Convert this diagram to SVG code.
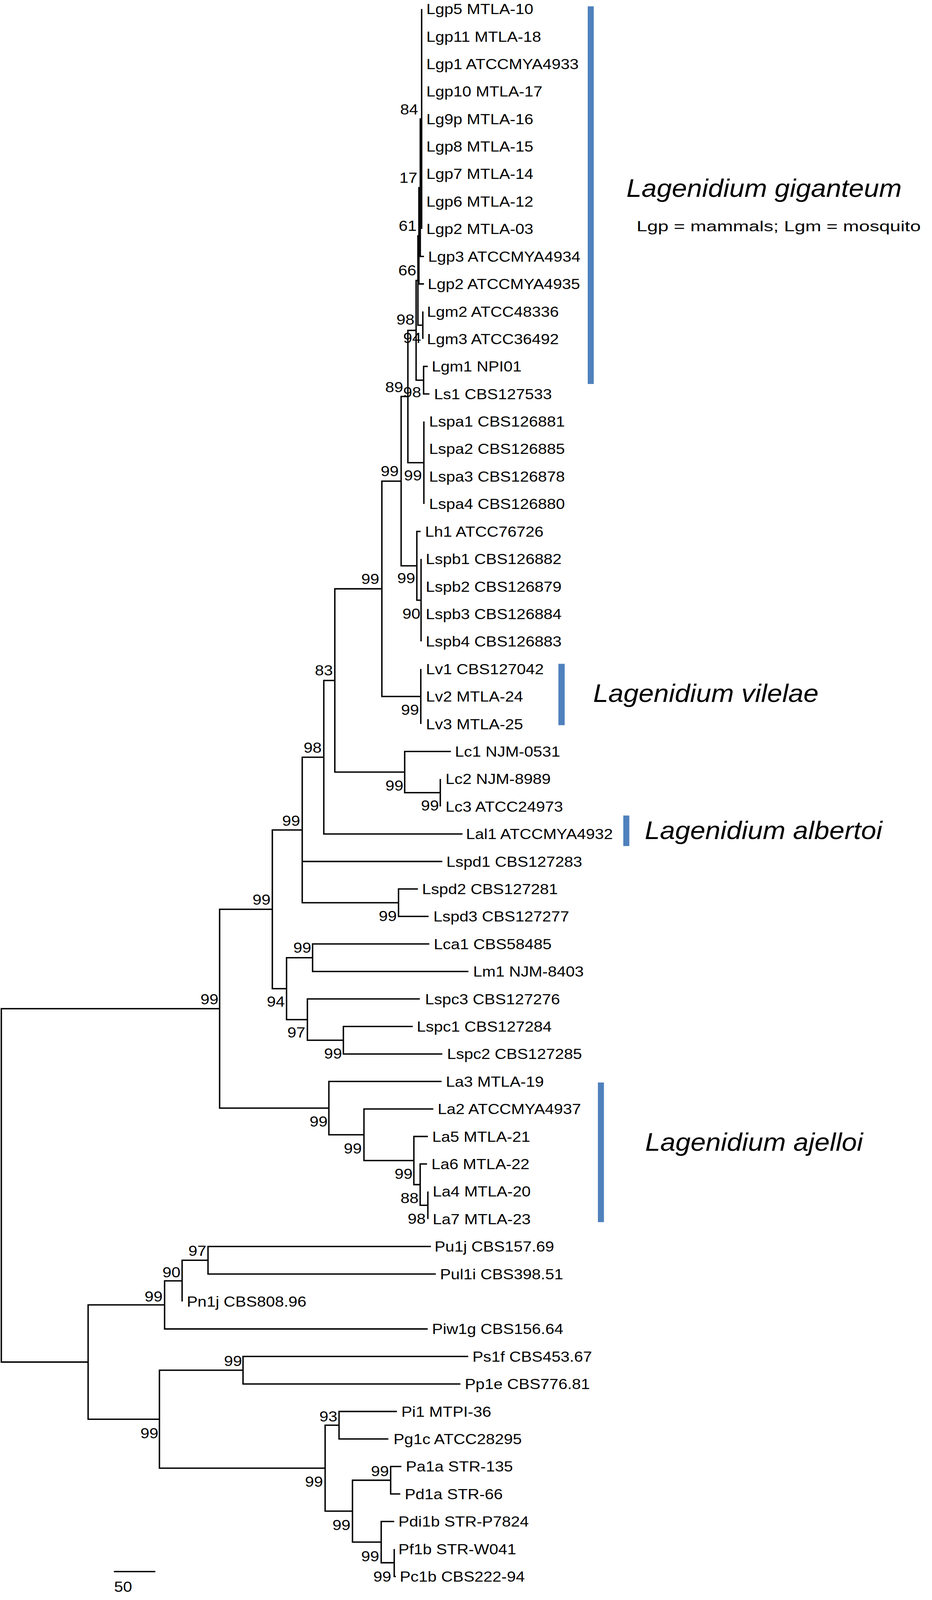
<svg xmlns="http://www.w3.org/2000/svg" width="2385" height="4169" viewBox="0 0 2385 4169">
<style>
.br{fill:none;stroke:#000;stroke-width:3.6;stroke-linejoin:miter;stroke-linecap:butt}
.lf{font-family:"Liberation Sans",Arial,Helvetica,sans-serif;font-size:38px;fill:#000}
.bs{font-family:"Liberation Sans",Arial,Helvetica,sans-serif;font-size:38px;fill:#000;text-anchor:end}
.cl{font-family:"Liberation Sans",Arial,Helvetica,sans-serif;font-size:66px;font-style:italic;fill:#000}
.bar{fill:#4F81BD}
</style>
<rect width="2385" height="4169" fill="#fff"/>
<g id="figure" transform="scale(1 0.982)">
<g id="connectors">
<path class="br" d="M1079 23.3V596.8"/>
<path class="br" d="M1079 310.05H1075.5V668.5H1085"/>
<path class="br" d="M1075.5 489.3H1072V740.2H1085"/>
<path class="br" d="M1082 811.9V883.6"/>
<path class="br" d="M1072 614.75H1069.5V847.75H1082"/>
<path class="br" d="M1094.7 955.3H1084V1027H1099"/>
<path class="br" d="M1069.5 731.25H1064.8V991.15H1084"/>
<path class="br" d="M1084.7 1098.7V1313.7"/>
<path class="br" d="M1064.8 861.2H1043.8V1206.2H1084.7"/>
<path class="br" d="M1077.5 1457.1V1672.2"/>
<path class="br" d="M1076.3 1385.4H1066.7V1564.65H1077.5"/>
<path class="br" d="M1043.8 1033.7H1026.5V1475H1066.7"/>
<path class="br" d="M1076.8 1743.9V1887.3"/>
<path class="br" d="M1026.5 1254.35H977.2V1815.6H1076.8"/>
<path class="br" d="M1126.7 2030.7V2102.4"/>
<path class="br" d="M1153.8 1959H1035.6V2066.55H1126.7"/>
<path class="br" d="M977.2 1535H856.8V2012.8H1035.6"/>
<path class="br" d="M856.8 1773.9H828.6V2174.1H1183.6"/>
<path class="br" d="M1069.5 2317.5H1019.8V2389.1H1096.8"/>
<path class="br" d="M828.6 1974H773.4V2353.3H1019.8M773.4 2245.8H1131.9"/>
<path class="br" d="M1098.6 2460.8H799.9V2532.5H1198.6"/>
<path class="br" d="M1056.2 2675.9H878.7V2747.6H1131.9"/>
<path class="br" d="M1074.4 2604.2H786.6V2711.75H878.7"/>
<path class="br" d="M799.9 2496.65H733.3V2658H786.6"/>
<path class="br" d="M773.4 2163.65H696.9V2577.3H733.3"/>
<path class="br" d="M1094.9 3106.1V3177.8"/>
<path class="br" d="M1092.8 3034.4H1075.2V3141.95H1094.9"/>
<path class="br" d="M1094.9 2962.7H1059.1V3088.2H1075.2"/>
<path class="br" d="M1108.9 2891H931.4V3025.45H1059.1"/>
<path class="br" d="M1130 2819.3H841.6V2958.2H931.4"/>
<path class="br" d="M696.9 2370.5H562V2888.75H841.6"/>
<path class="br" d="M1102.8 3249.5H532.3V3321.2H1115.3"/>
<path class="br" d="M532.3 3285.35H466V3392.8"/>
<path class="br" d="M466 3339.1H421.2V3464.5H1094.5"/>
<path class="br" d="M1198.2 3536.2H621.9V3607.9H1178.2"/>
<path class="br" d="M1015.7 3679.6H867.6V3751.3H993.9"/>
<path class="br" d="M1027.2 3823H999.7V3894.7H1024.3"/>
<path class="br" d="M1008.8 4038.1V4109.8H1013"/>
<path class="br" d="M1008.8 3966.4H975.5V4073.95H1008.8"/>
<path class="br" d="M999.7 3858.85H902V4020.2H975.5"/>
<path class="br" d="M867.6 3715.45H832V3939.5H902"/>
<path class="br" d="M621.9 3572.05H408V3827.5H832"/>
<path class="br" d="M421.2 3401.8H225.5V3699.8H408"/>
<path class="br" d="M562 2629.6H3.4V3550.8H225.5"/>
</g>
<g id="leaves">
<g id="n1"><text class="lf" transform="translate(1091 36.8) scale(1.09 1)">Lgp5 MTLA-10</text></g>
<g id="n2"><text class="lf" transform="translate(1091 108.5) scale(1.09 1)">Lgp11 MTLA-18</text></g>
<g id="n3"><text class="lf" transform="translate(1091 180.2) scale(1.09 1)">Lgp1 ATCCMYA4933</text></g>
<g id="n4"><text class="lf" transform="translate(1091 251.9) scale(1.09 1)">Lgp10 MTLA-17</text></g>
<g id="n5"><text class="lf" transform="translate(1091 323.6) scale(1.09 1)">Lg9p MTLA-16</text></g>
<g id="n6"><text class="lf" transform="translate(1091 395.3) scale(1.09 1)">Lgp8 MTLA-15</text></g>
<g id="n7"><text class="lf" transform="translate(1091 466.9) scale(1.09 1)">Lgp7 MTLA-14</text></g>
<g id="n8"><text class="lf" transform="translate(1091 538.6) scale(1.09 1)">Lgp6 MTLA-12</text></g>
<g id="n9"><text class="lf" transform="translate(1091 610.3) scale(1.09 1)">Lgp2 MTLA-03</text></g>
<g id="n10"><text class="lf" transform="translate(1095.5 682) scale(1.09 1)">Lgp3 ATCCMYA4934</text></g>
<g id="n11"><text class="lf" transform="translate(1094.5 753.7) scale(1.09 1)">Lgp2 ATCCMYA4935</text></g>
<g id="n12"><text class="lf" transform="translate(1092.5 825.4) scale(1.09 1)">Lgm2 ATCC48336</text></g>
<g id="n13"><text class="lf" transform="translate(1092.5 897.1) scale(1.09 1)">Lgm3 ATCC36492</text></g>
<g id="n14"><text class="lf" transform="translate(1104.7 968.8) scale(1.09 1)">Lgm1 NPI01</text></g>
<g id="n15"><text class="lf" transform="translate(1110.8 1040.5) scale(1.09 1)">Ls1 CBS127533</text></g>
<g id="n16"><text class="lf" transform="translate(1098 1112.2) scale(1.09 1)">Lspa1 CBS126881</text></g>
<g id="n17"><text class="lf" transform="translate(1098 1183.8) scale(1.09 1)">Lspa2 CBS126885</text></g>
<g id="n18"><text class="lf" transform="translate(1098 1255.5) scale(1.09 1)">Lspa3 CBS126878</text></g>
<g id="n19"><text class="lf" transform="translate(1098 1327.2) scale(1.09 1)">Lspa4 CBS126880</text></g>
<g id="n20"><text class="lf" transform="translate(1087.8 1398.9) scale(1.09 1)">Lh1 ATCC76726</text></g>
<g id="n21"><text class="lf" transform="translate(1089.4 1470.6) scale(1.09 1)">Lspb1 CBS126882</text></g>
<g id="n22"><text class="lf" transform="translate(1089.4 1542.3) scale(1.09 1)">Lspb2 CBS126879</text></g>
<g id="n23"><text class="lf" transform="translate(1089.4 1614) scale(1.09 1)">Lspb3 CBS126884</text></g>
<g id="n24"><text class="lf" transform="translate(1089.4 1685.7) scale(1.09 1)">Lspb4 CBS126883</text></g>
<g id="n25"><text class="lf" transform="translate(1090 1757.4) scale(1.09 1)">Lv1 CBS127042</text></g>
<g id="n26"><text class="lf" transform="translate(1090 1829.1) scale(1.09 1)">Lv2 MTLA-24</text></g>
<g id="n27"><text class="lf" transform="translate(1090 1900.8) scale(1.09 1)">Lv3 MTLA-25</text></g>
<g id="n28"><text class="lf" transform="translate(1164.3 1972.5) scale(1.09 1)">Lc1 NJM-0531</text></g>
<g id="n29"><text class="lf" transform="translate(1140 2044.2) scale(1.09 1)">Lc2 NJM-8989</text></g>
<g id="n30"><text class="lf" transform="translate(1140 2115.9) scale(1.09 1)">Lc3 ATCC24973</text></g>
<g id="n31"><text class="lf" transform="translate(1192.5 2187.6) scale(1.09 1)">Lal1 ATCCMYA4932</text></g>
<g id="n32"><text class="lf" transform="translate(1142.2 2259.3) scale(1.09 1)">Lspd1 CBS127283</text></g>
<g id="n33"><text class="lf" transform="translate(1080 2331) scale(1.09 1)">Lspd2 CBS127281</text></g>
<g id="n34"><text class="lf" transform="translate(1109 2402.6) scale(1.09 1)">Lspd3 CBS127277</text></g>
<g id="n35"><text class="lf" transform="translate(1110 2474.3) scale(1.09 1)">Lca1 CBS58485</text></g>
<g id="n36"><text class="lf" transform="translate(1210.7 2546) scale(1.09 1)">Lm1 NJM-8403</text></g>
<g id="n37"><text class="lf" transform="translate(1087.7 2617.7) scale(1.09 1)">Lspc3 CBS127276</text></g>
<g id="n38"><text class="lf" transform="translate(1066.5 2689.4) scale(1.09 1)">Lspc1 CBS127284</text></g>
<g id="n39"><text class="lf" transform="translate(1144 2761.1) scale(1.09 1)">Lspc2 CBS127285</text></g>
<g id="n40"><text class="lf" transform="translate(1141 2832.8) scale(1.09 1)">La3 MTLA-19</text></g>
<g id="n41"><text class="lf" transform="translate(1120 2904.5) scale(1.09 1)">La2 ATCCMYA4937</text></g>
<g id="n42"><text class="lf" transform="translate(1106 2976.2) scale(1.09 1)">La5 MTLA-21</text></g>
<g id="n43"><text class="lf" transform="translate(1104 3047.9) scale(1.09 1)">La6 MTLA-22</text></g>
<g id="n44"><text class="lf" transform="translate(1107.3 3119.6) scale(1.09 1)">La4 MTLA-20</text></g>
<g id="n45"><text class="lf" transform="translate(1107.3 3191.3) scale(1.09 1)">La7 MTLA-23</text></g>
<g id="n46"><text class="lf" transform="translate(1112 3263) scale(1.09 1)">Pu1j CBS157.69</text></g>
<g id="n47"><text class="lf" transform="translate(1126 3334.7) scale(1.09 1)">Pul1i CBS398.51</text></g>
<g id="n48"><text class="lf" transform="translate(478 3406.3) scale(1.09 1)">Pn1j CBS808.96</text></g>
<g id="n49"><text class="lf" transform="translate(1105.6 3478) scale(1.09 1)">Piw1g CBS156.64</text></g>
<g id="n50"><text class="lf" transform="translate(1209 3549.7) scale(1.09 1)">Ps1f CBS453.67</text></g>
<g id="n51"><text class="lf" transform="translate(1189.5 3621.4) scale(1.09 1)">Pp1e CBS776.81</text></g>
<g id="n52"><text class="lf" transform="translate(1027 3693.1) scale(1.09 1)">Pi1 MTPI-36</text></g>
<g id="n53"><text class="lf" transform="translate(1007 3764.8) scale(1.09 1)">Pg1c ATCC28295</text></g>
<g id="n54"><text class="lf" transform="translate(1038.6 3836.5) scale(1.09 1)">Pa1a STR-135</text></g>
<g id="n55"><text class="lf" transform="translate(1035.7 3908.2) scale(1.09 1)">Pd1a STR-66</text></g>
<g id="n56"><text class="lf" transform="translate(1019.6 3979.9) scale(1.09 1)">Pdi1b STR-P7824</text></g>
<g id="n57"><text class="lf" transform="translate(1019.6 4051.6) scale(1.09 1)">Pf1b STR-W041</text></g>
<g id="n58"><text class="lf" transform="translate(1023 4123.3) scale(1.09 1)">Pc1b CBS222-94</text></g>
</g>
<g id="bootstrap">
<text class="bs" transform="translate(1070 298) scale(1.09 1)">84</text>
<text class="bs" transform="translate(1068 477) scale(1.09 1)">17</text>
<text class="bs" transform="translate(1066.3 601.4) scale(1.09 1)">61</text>
<text class="bs" transform="translate(1065.2 718.1) scale(1.09 1)">66</text>
<text class="bs" transform="translate(1060.5 846.3) scale(1.09 1)">98</text>
<text class="bs" transform="translate(1077.8 894.2) scale(1.09 1)">94</text>
<text class="bs" transform="translate(1031.9 1022.4) scale(1.09 1)">89</text>
<text class="bs" transform="translate(1077.8 1035.8) scale(1.09 1)">98</text>
<text class="bs" transform="translate(1020.4 1241.4) scale(1.09 1)">99</text>
<text class="bs" transform="translate(1079.7 1252.8) scale(1.09 1)">99</text>
<text class="bs" transform="translate(970.5 1522.6) scale(1.09 1)">99</text>
<text class="bs" transform="translate(1062.5 1520.7) scale(1.09 1)">99</text>
<text class="bs" transform="translate(1075.9 1612.6) scale(1.09 1)">90</text>
<text class="bs" transform="translate(851.8 1761) scale(1.09 1)">83</text>
<text class="bs" transform="translate(1072.4 1863.5) scale(1.09 1)">99</text>
<text class="bs" transform="translate(823 1961.9) scale(1.09 1)">98</text>
<text class="bs" transform="translate(1032.3 2061.4) scale(1.09 1)">99</text>
<text class="bs" transform="translate(1123.3 2113.1) scale(1.09 1)">99</text>
<text class="bs" transform="translate(768.1 2152.7) scale(1.09 1)">99</text>
<text class="bs" transform="translate(692.3 2358.9) scale(1.09 1)">99</text>
<text class="bs" transform="translate(1015.3 2401.3) scale(1.09 1)">99</text>
<text class="bs" transform="translate(796.5 2483.9) scale(1.09 1)">99</text>
<text class="bs" transform="translate(728.7 2624.6) scale(1.09 1)">94</text>
<text class="bs" transform="translate(781.4 2704.9) scale(1.09 1)">97</text>
<text class="bs" transform="translate(875.3 2759.8) scale(1.09 1)">99</text>
<text class="bs" transform="translate(559.1 2618.5) scale(1.09 1)">99</text>
<text class="bs" transform="translate(838.2 2936.7) scale(1.09 1)">99</text>
<text class="bs" transform="translate(925.9 3006.7) scale(1.09 1)">99</text>
<text class="bs" transform="translate(1055.7 3073.3) scale(1.09 1)">99</text>
<text class="bs" transform="translate(1071.1 3136.7) scale(1.09 1)">88</text>
<text class="bs" transform="translate(1089.4 3190) scale(1.09 1)">98</text>
<text class="bs" transform="translate(528 3274.4) scale(1.09 1)">97</text>
<text class="bs" transform="translate(461.7 3329.9) scale(1.09 1)">90</text>
<text class="bs" transform="translate(416.1 3393) scale(1.09 1)">99</text>
<text class="bs" transform="translate(619.2 3561.4) scale(1.09 1)">99</text>
<text class="bs" transform="translate(405.3 3749) scale(1.09 1)">99</text>
<text class="bs" transform="translate(863.4 3706.2) scale(1.09 1)">93</text>
<text class="bs" transform="translate(826.6 3876.2) scale(1.09 1)">99</text>
<text class="bs" transform="translate(995.4 3848.5) scale(1.09 1)">99</text>
<text class="bs" transform="translate(896.7 3988.9) scale(1.09 1)">99</text>
<text class="bs" transform="translate(970.2 4070) scale(1.09 1)">99</text>
<text class="bs" transform="translate(1001.2 4123.3) scale(1.09 1)">99</text>
</g>
<g id="clade-giganteum">
<rect class="bar" x="1504" y="16.5" width="15.5" height="984.5"/>
<text class="cl" transform="translate(1603 513) scale(1.055 1)">Lagenidium giganteum</text>
<text class="lf" transform="translate(1629 602.7) scale(1.29 1)">Lgp = mammals; Lgm = mosquito</text>
</g>
<g id="clade-vilelae">
<rect class="bar" x="1429" y="1730.5" width="16" height="160"/>
<text class="cl" transform="translate(1518 1830) scale(1.055 1)">Lagenidium vilelae</text>
</g>
<g id="clade-albertoi">
<rect class="bar" x="1595" y="2126" width="15.5" height="79.6"/>
<text class="cl" transform="translate(1650 2187) scale(1.055 1)">Lagenidium albertoi</text>
</g>
<g id="clade-ajelloi">
<rect class="bar" x="1530" y="2822" width="15.5" height="364"/>
<text class="cl" transform="translate(1651 3000) scale(1.055 1)">Lagenidium ajelloi</text>
</g>
<g id="scale-bar">
<path class="br" d="M291.5 4097H397.5"/>
<text class="lf" transform="translate(292 4150) scale(1.09 1)">50</text>
</g>
</g>
</svg>
